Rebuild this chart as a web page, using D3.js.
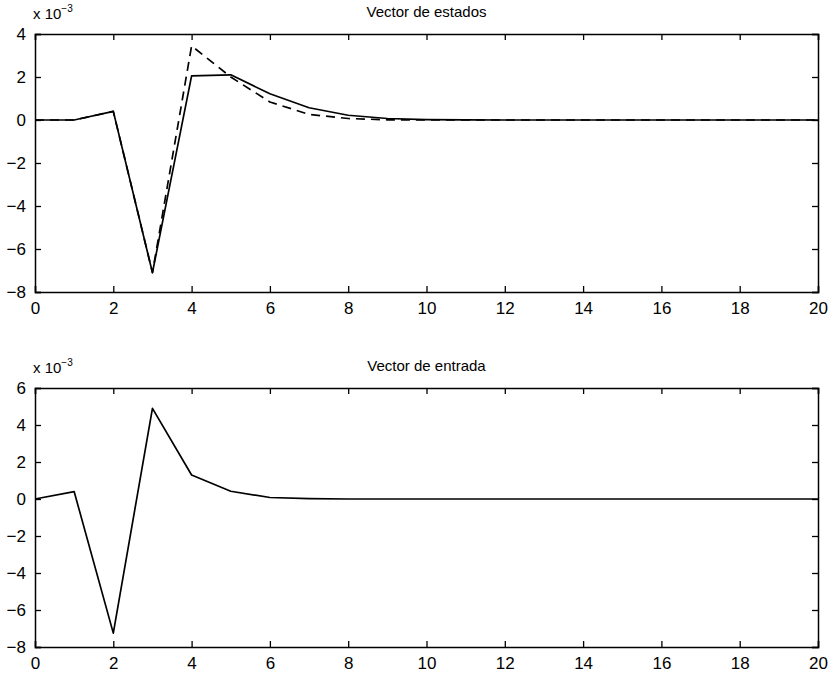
<!DOCTYPE html>
<html>
<head>
<meta charset="utf-8">
<script src="https://cdn.jsdelivr.net/npm/d3@7"></script>
<style>
  html, body { margin: 0; padding: 0; background: #fff; }
  svg text { font-family: "Liberation Sans", Arial, Helvetica, sans-serif; fill: #000; }
</style>
</head>
<body>
<svg id="chart" width="830" height="674"></svg>
<script>
// Sample index k = 0..20
const steps = d3.range(0, 21);

// State vector, first component (dashed), units of 1e-3
const stateA = [0, 0, 0.4, -7.1, 3.45, 2.0, 0.84, 0.26, 0.07, 0.01, 0, 0, 0, 0, 0, 0, 0, 0, 0, 0, 0];
// State vector, second component (solid), units of 1e-3
const stateB = [0, 0, 0.4, -7.1, 2.05, 2.1, 1.22, 0.57, 0.22, 0.07, 0.02, 0.01, 0, 0, 0, 0, 0, 0, 0, 0, 0];
// Input vector, units of 1e-3
const inputU = [0, 0.4, -7.25, 4.9, 1.3, 0.42, 0.08, 0.02, 0, 0, 0, 0, 0, 0, 0, 0, 0, 0, 0, 0, 0];

const xTicks = [0, 2, 4, 6, 8, 10, 12, 14, 16, 18, 20];
const yTicksTop = [-8, -6, -4, -2, 0, 2, 4];
const yTicksBottom = [-8, -6, -4, -2, 0, 2, 4, 6];

const titles = ["Vector de estados", "Vector de entrada"];

const svg = d3.select("#chart");
const fmt = d => (d < 0 ? "\u2212" + Math.abs(d) : String(d));

function panel(cfg) {
  const { left, right, top, bottom, yDomain, yTicks, series, title } = cfg;
  const x = d3.scaleLinear().domain([0, 20]).range([left, right]);
  const y = d3.scaleLinear().domain(yDomain).range([bottom, top]);
  const g = svg.append("g");

  // plot lines
  const line = d3.line().x((d, i) => x(steps[i])).y(d => y(d));
  series.forEach(s => {
    g.append("path")
      .datum(s.values)
      .attr("fill", "none")
      .attr("stroke", "#000")
      .attr("stroke-width", 1.7)
      .attr("stroke-linejoin", "round")
      .attr("stroke-dasharray", s.dash || null)
      .attr("d", line);
  });

  // axes with inward ticks on all four sides
  const tl = 6;
  const ax = [
    { a: d3.axisBottom(x).tickValues(xTicks).tickSize(-tl).tickPadding(tl + 4), tr: `translate(0,${bottom})`, lab: true },
    { a: d3.axisTop(x).tickValues(xTicks).tickSize(-tl), tr: `translate(0,${top})`, lab: false },
    { a: d3.axisLeft(y).tickValues(yTicks).tickSize(-tl).tickPadding(tl + 3), tr: `translate(${left},0)`, lab: true },
    { a: d3.axisRight(y).tickValues(yTicks).tickSize(-tl), tr: `translate(${right},0)`, lab: false }
  ];
  ax.forEach(o => {
    const ag = g.append("g").attr("transform", o.tr).call(o.a.tickFormat(o.lab ? fmt : () => ""));
    ag.select(".domain").attr("stroke", "#000").attr("stroke-width", 1.5);
    ag.selectAll(".tick line").attr("stroke", "#000").attr("stroke-width", 1.3);
    ag.selectAll(".tick text").attr("font-size", 17).attr("font-family", "Liberation Sans, Arial, sans-serif");
  });

  // exponent label
  const ex = g.append("text").attr("x", left - 2).attr("y", top - 15).attr("font-size", 15);
  ex.append("tspan").text("x 10");
  ex.append("tspan").attr("dy", -7).attr("font-size", 10).text("\u22123");

  // title
  g.append("text")
    .attr("x", (left + right) / 2)
    .attr("y", top - 17)
    .attr("text-anchor", "middle")
    .attr("font-size", 15)
    .text(title);
}

panel({
  left: 35, right: 818, top: 34, bottom: 292,
  yDomain: [-8, 4], yTicks: yTicksTop,
  series: [{ values: stateA, dash: "9,6" }, { values: stateB }],
  title: titles[0]
});

panel({
  left: 35, right: 818, top: 388, bottom: 647,
  yDomain: [-8, 6], yTicks: yTicksBottom,
  series: [{ values: inputU }],
  title: titles[1]
});
</script>
</body>
</html>
